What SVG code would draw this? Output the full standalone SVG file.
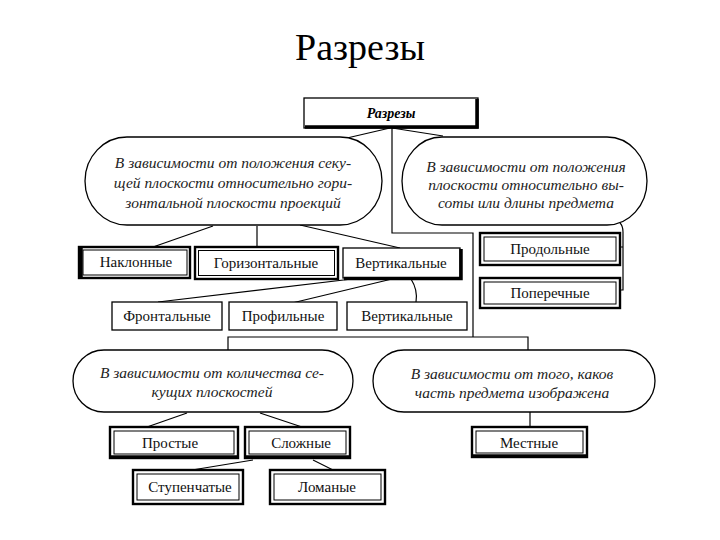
<svg xmlns="http://www.w3.org/2000/svg" width="720" height="540" viewBox="0 0 720 540">
<style>
.bg{fill:#fff}
.ln{fill:none;stroke:#000;stroke-width:1.2}
.box{fill:#fff;stroke:#000;stroke-width:1.3}
.outer{fill:#fff;stroke:#000;stroke-width:2.4}
.inner{fill:none;stroke:#000;stroke-width:1}
.thick{fill:none;stroke:#000;stroke-width:3.5}
.oval{fill:#fff;stroke:#000;stroke-width:1.3}
.lbl{font-family:"Liberation Serif","Times New Roman",serif;font-size:15px;fill:#111;text-anchor:middle}
.ital{font-family:"Liberation Serif","Times New Roman",serif;font-style:italic;font-size:15.5px;fill:#222;text-anchor:middle}
.title{font-family:"Liberation Serif","Times New Roman",serif;font-size:38px;fill:#000;text-anchor:middle}
</style>
<rect class="bg" x="0" y="0" width="720" height="540"/>
<text class="title" x="360" y="60">Разрезы</text>

<g id="connectors">
  <path class="ln" d="M390,128 L347,138"/>
  <path class="ln" d="M392,128 L443,136"/>
  <path class="ln" d="M392,128 V233 H473 V337"/>
  <path class="ln" d="M228,350 V337 H528 V350"/>
  <path class="ln" d="M153,247 L213,226"/>
  <path class="ln" d="M257,226 V247"/>
  <path class="ln" d="M300,225 L400,248"/>
  <path class="ln" d="M352,279 L158,302"/>
  <path class="ln" d="M392,279 L292,303"/>
  <path class="ln" d="M411,279 Q418,290 416,302"/>
  <path class="ln" d="M620,223 Q623,226 623,232 V290 H620 M620,247 H623"/>
  <path class="ln" d="M187,413 L147,427"/>
  <path class="ln" d="M260,413 L302,427"/>
  <path class="ln" d="M530,412 V427"/>
  <path class="ln" d="M253,460 L192,470"/>
  <path class="ln" d="M313,460 L333,470"/>
</g>

<g id="n-razrezy">
  <rect class="box" x="304" y="98" width="174" height="30"/>
  <path class="thick" d="M305,127 H477 V99" stroke-width="2.5"/>
  <text x="391" y="118" style="font-family:'Liberation Serif',serif;font-style:italic;font-weight:bold;font-size:14px;text-anchor:middle">Разрезы</text>
</g>

<g id="n-oval-left">
  <rect class="oval" x="85" y="137" width="297" height="88" rx="42" ry="44"/>
  <text class="ital" x="233" y="168">В зависимости от положения секу-</text>
  <text class="ital" x="233" y="188">щей плоскости относительно гори-</text>
  <text class="ital" x="233" y="208">зонтальной плоскости проекций</text>
</g>

<g id="n-oval-right">
  <rect class="oval" x="402" y="137" width="245" height="88" rx="40" ry="44"/>
  <text class="ital" x="526" y="172">В зависимости от положения</text>
  <text class="ital" x="526" y="190">плоскости относительно вы-</text>
  <text class="ital" x="526" y="208">соты или длины предмета</text>
</g>

<g id="n-naklonnye">
  <rect class="outer" x="79" y="247" width="111" height="31"/>
  <rect class="inner" x="83" y="250" width="104" height="25"/>
  <path class="thick" d="M81,247 V278"/>
  <text class="lbl" x="136" y="267">Наклонные</text>
</g>
<g id="n-gorizontalnye">
  <rect class="outer" x="195" y="247" width="143" height="32"/>
  <rect class="inner" x="198.5" y="250.5" width="136" height="25"/>
  <text class="lbl" x="266" y="268">Горизонтальные</text>
</g>
<g id="n-vertikalnye1">
  <rect class="box" x="343" y="248" width="117" height="30"/>
  <path class="thick" d="M344,278.5 H461 V249" stroke-width="3"/>
  <text class="lbl" x="401" y="268">Вертикальные</text>
</g>

<g id="n-prodolnye">
  <rect class="outer" x="480" y="233" width="140" height="32"/>
  <rect class="inner" x="484" y="237" width="132" height="24"/>
  <text class="lbl" x="550" y="254">Продольные</text>
</g>
<g id="n-poperechnye">
  <rect class="outer" x="480" y="278" width="140" height="30"/>
  <rect class="inner" x="484" y="282" width="132" height="22"/>
  <text class="lbl" x="550" y="298">Поперечные</text>
</g>

<g id="n-frontalnye">
  <rect class="box" x="112" y="302" width="110" height="28"/>
  <text class="lbl" x="167" y="321">Фронтальные</text>
</g>
<g id="n-profilnye">
  <rect class="box" x="229" y="302" width="108" height="28"/>
  <text class="lbl" x="283" y="321">Профильные</text>
</g>
<g id="n-vertikalnye2">
  <rect class="box" x="347" y="302" width="120" height="28"/>
  <text class="lbl" x="407" y="321">Вертикальные</text>
</g>

<g id="n-oval-bl">
  <rect class="oval" x="73" y="350" width="280" height="62" rx="31" ry="31"/>
  <text class="ital" x="212" y="378">В зависимости от количества се-</text>
  <text class="ital" x="212" y="397">кущих плоскостей</text>
</g>
<g id="n-oval-br">
  <rect class="oval" x="373" y="350" width="282" height="62" rx="31" ry="31"/>
  <text class="ital" x="512" y="379">В зависимости от того, каков</text>
  <text class="ital" x="512" y="398">часть предмета изображена</text>
</g>

<g id="n-prostye">
  <rect class="outer" x="110" y="427" width="128" height="31"/>
  <rect class="inner" x="114" y="431" width="120" height="23"/>
  <path class="thick" d="M111,457 H237" stroke-width="2.5"/>
  <text class="lbl" x="170" y="448">Простые</text>
</g>
<g id="n-slozhnye">
  <rect class="outer" x="245" y="427" width="105" height="31"/>
  <rect class="inner" x="249" y="431" width="97" height="23"/>
  <path class="thick" d="M246,457 H349" stroke-width="2.5"/>
  <text class="lbl" x="301" y="448">Сложные</text>
</g>
<g id="n-mestnye">
  <rect class="outer" x="472" y="427" width="115" height="30"/>
  <rect class="inner" x="476" y="431" width="107" height="22"/>
  <path class="thick" d="M473,456 H586" stroke-width="2.5"/>
  <text class="lbl" x="529" y="448">Местные</text>
</g>
<g id="n-stupenchatye">
  <rect class="outer" x="133" y="470" width="110" height="34"/>
  <rect class="inner" x="137" y="474" width="102" height="26"/>
  <text class="lbl" x="190" y="492">Ступенчатые</text>
</g>
<g id="n-lomanye">
  <rect class="outer" x="270" y="470" width="115" height="34"/>
  <rect class="inner" x="274" y="474" width="107" height="26"/>
  <text class="lbl" x="327" y="492">Ломаные</text>
</g>
</svg>
